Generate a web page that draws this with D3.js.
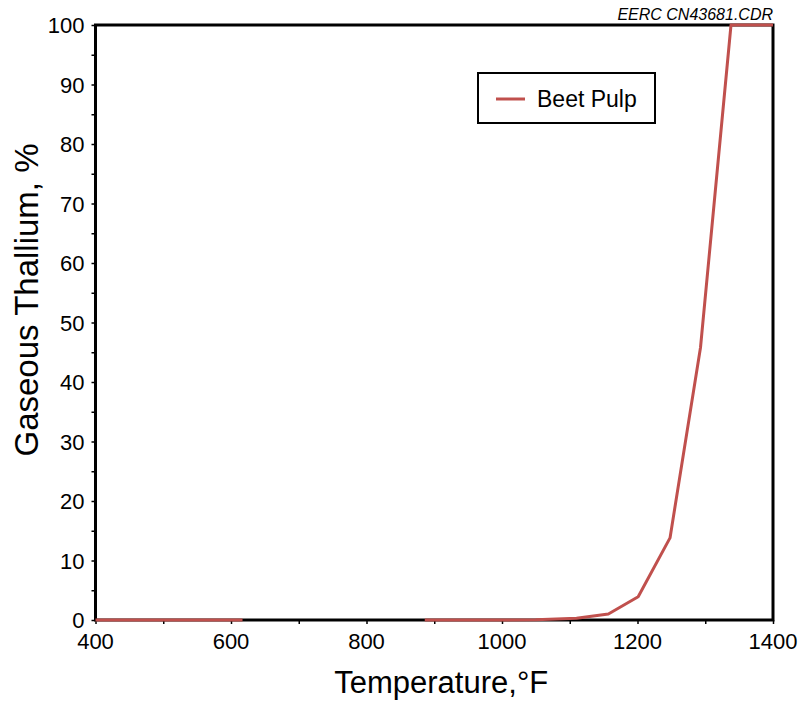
<!DOCTYPE html>
<html>
<head>
<meta charset="utf-8">
<script src="https://cdn.jsdelivr.net/npm/d3@7"></script>
<style>
  body { margin: 0; background: #fff; }
  text { font-family: "Liberation Sans", Arial, sans-serif; fill: #000; }
</style>
</head>
<body>
<div id="chart"></div>
<script>
// Beet pulp, gaseous thallium vs temperature (null = gap in the curve)
const temperature = [400, 617, 617, 886, 1000, 1050, 1110, 1157, 1201, 1248, 1293, 1338, 1400];
const thallium    = [0,   0,   null, 0,  0,    0.05, 0.3,  1.0,  3.9,  13.8, 45.8, 100,  100];
const xTicks = [400, 600, 800, 1000, 1200, 1400];
const yTicks = [0, 10, 20, 30, 40, 50, 60, 70, 80, 90, 100];
const seriesName = "Beet Pulp";
const lineColor = "#c0504d";

const width = 801, height = 703;
const margin = {top: 25, right: 28, bottom: 83, left: 95.5};

const svg = d3.select("#chart").append("svg")
    .attr("width", width)
    .attr("height", height);

const x = d3.scaleLinear().domain([400, 1400]).range([margin.left, width - margin.right]);
const y = d3.scaleLinear().domain([0, 100]).range([height - margin.bottom, margin.top]);

const points = temperature.map((t, i) => ({t, v: thallium[i]}));

// minor ticks
const xMinor = d3.range(400, 1401, 100);
const yMinor = d3.range(0, 101, 5);

svg.append("g")
    .attr("transform", `translate(0,${y(0)})`)
    .call(d3.axisBottom(x).tickValues(xMinor).tickSize(4).tickFormat(""))
    .call(g => g.select(".domain").remove())
    .selectAll("line").attr("stroke-width", 1.5);

svg.append("g")
    .attr("transform", `translate(${x(400)},0)`)
    .call(d3.axisLeft(y).tickValues(yMinor).tickSize(4).tickFormat(""))
    .call(g => g.select(".domain").remove())
    .selectAll("line").attr("stroke-width", 1.5);

// tick labels
svg.append("g").selectAll("text")
    .data(xTicks)
    .join("text")
    .attr("x", d => x(d))
    .attr("y", y(0) + 29)
    .attr("text-anchor", "middle")
    .attr("font-size", 22)
    .text(d => d);

svg.append("g").selectAll("text")
    .data(yTicks)
    .join("text")
    .attr("x", x(400) - 11)
    .attr("y", d => y(d) + 8)
    .attr("text-anchor", "end")
    .attr("font-size", 22)
    .text(d => d);

// frame
svg.append("rect")
    .attr("x", x(400))
    .attr("y", y(100))
    .attr("width", x(1400) - x(400))
    .attr("height", y(0) - y(100))
    .attr("fill", "none")
    .attr("stroke", "#000")
    .attr("stroke-width", 3);

// curve
const line = d3.line()
    .defined(d => d.v !== null)
    .x(d => x(d.t))
    .y(d => y(d.v));

svg.append("path")
    .datum(points)
    .attr("fill", "none")
    .attr("stroke", lineColor)
    .attr("stroke-width", 3)
    .attr("stroke-linejoin", "round")
    .attr("d", line);

// legend
const legend = svg.append("g").attr("transform", "translate(478,73)");
legend.append("rect")
    .attr("width", 177)
    .attr("height", 50)
    .attr("fill", "#fff")
    .attr("stroke", "#000")
    .attr("stroke-width", 2);
legend.append("line")
    .attr("x1", 18).attr("x2", 47)
    .attr("y1", 26).attr("y2", 26)
    .attr("stroke", lineColor)
    .attr("stroke-width", 3);
legend.append("text")
    .attr("x", 59)
    .attr("y", 34)
    .attr("font-size", 23)
    .text(seriesName);

// axis titles
svg.append("text")
    .attr("x", (x(400) + x(1400)) / 2 + 7)
    .attr("y", 693)
    .attr("text-anchor", "middle")
    .attr("font-size", 31)
    .text("Temperature,°F");

svg.append("text")
    .attr("transform", "translate(38,300) rotate(-90)")
    .attr("text-anchor", "middle")
    .attr("font-size", 33)
    .text("Gaseous Thallium, %");

// file tag
svg.append("text")
    .attr("x", 773)
    .attr("y", 20)
    .attr("text-anchor", "end")
    .attr("font-size", 16)
    .attr("font-style", "italic")
    .attr("fill", "#333")
    .text("EERC CN43681.CDR");
</script>
</body>
</html>
